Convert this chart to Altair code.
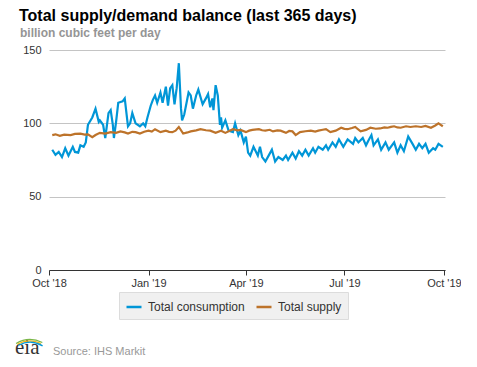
import altair as alt
import pandas as pd

FONT = "Liberation Sans"

# ---- data ----
START = "2018-10-01"
cons_day = [3, 6, 9, 12, 15, 18, 22, 24, 27, 29, 32, 34, 36, 40, 43, 46, 47, 50, 52, 55,
            57, 59, 60, 62, 64, 68, 70, 73, 75, 77, 80, 84, 87, 89, 91, 94, 96, 98, 100, 103,
            105, 108, 110, 112, 114, 116, 118, 120, 122, 123, 125, 129, 131, 133, 136, 138, 142, 145, 147, 149,
            151, 152, 154, 156, 158, 159, 160, 163, 166, 170, 172, 175, 177, 180, 182, 184, 186, 189, 193, 195,
            197, 200, 203, 206, 209, 212, 216, 219, 221, 225, 228, 231, 234, 237, 240, 244, 246, 249, 253, 256,
            258, 262, 265, 268, 272, 276, 281, 283, 286, 290, 293, 295, 298, 300, 304, 307, 311, 314, 319, 322,
            325, 328, 332, 336, 339, 342, 345, 348, 351, 355, 357, 360, 364]
cons_val = [82, 78.5, 80.5, 77, 83, 78, 84, 80.5, 80, 85, 84, 87, 99, 104, 110, 101, 102, 99, 90, 107,
            109, 99, 90, 101, 114, 115, 117, 98, 100, 107, 100, 98, 100, 98, 104, 112, 116, 119, 114, 121,
            114, 125, 112, 124, 126, 113, 124, 141, 110, 102, 106, 121, 119, 110, 119, 123, 113, 117, 120, 111,
            117, 109, 126, 119, 99, 104, 97, 102, 95, 94, 100, 92, 95, 87, 91, 80, 78, 84, 78, 84,
            77, 74, 78, 82, 74, 77, 75, 78, 75, 80, 76, 81, 78, 82, 78, 83, 80, 84, 82, 85,
            82, 87, 84, 89, 84, 89, 86, 90, 87, 90, 85, 88, 92, 85, 89, 82, 87, 82, 87, 80,
            85, 81, 91, 86, 82, 86, 83, 86, 80, 83, 82, 86, 84]

sup_day = [3, 6, 10, 14, 20, 24, 29, 33, 36, 40, 43, 47, 52, 57, 62, 66, 70, 73, 77, 80,
           84, 88, 92, 95, 98, 103, 108, 111, 114, 117, 120, 124, 128, 131, 136, 140, 145, 149, 154, 159,
           163, 167, 170, 174, 177, 182, 185, 188, 194, 197, 200, 204, 207, 211, 214, 219, 222, 225, 228, 232,
           237, 242, 246, 249, 253, 256, 260, 265, 270, 273, 276, 280, 283, 288, 293, 297, 302, 306, 310, 313,
           316, 319, 322, 325, 330, 334, 339, 344, 348, 353, 357, 360, 362, 364]
sup_val = [92, 92.5, 91.5, 92.3, 92, 92.8, 93, 92.3, 92.5, 90.5, 92, 93.5, 93, 94, 93.5, 94.5, 93.8, 93, 94.2, 94,
           93, 94.3, 95, 94.4, 96, 94, 95, 94.2, 94, 95, 97.5, 93, 93.8, 94.5, 95.2, 96, 95.3, 95, 93.5, 95,
           93.5, 95, 96, 95.2, 95.5, 94, 95, 95.5, 96, 95.3, 95, 95.6, 94.5, 95.2, 95, 93.5, 94.8, 94.5, 92, 94,
           94.6, 95, 94.4, 95, 95.6, 96, 94, 95, 97, 96.2, 96, 96.8, 97.5, 94.5, 95.5, 97, 96.3, 96.5, 97.2, 97,
           97.6, 98, 97.2, 97, 98, 97.5, 98, 97.5, 98.2, 97, 98.5, 100, 99, 98]

series = ["Total consumption", "Total supply"]
colors = ["#0096D7", "#BD732A"]
y_ticks = [0, 50, 100, 150]
x_ticks = ["2018-10-01", "2019-01-01", "2019-04-01", "2019-07-01", "2019-10-01"]

start = pd.Timestamp(START)
df = pd.concat([
    pd.DataFrame({"date": [start + pd.Timedelta(days=d) for d in cons_day],
                  "value": cons_val, "series": series[0]}),
    pd.DataFrame({"date": [start + pd.Timedelta(days=d) for d in sup_day],
                  "value": sup_val, "series": series[1]}),
])
df["date"] = df["date"].dt.strftime("%Y-%m-%dT%H:%M:%S")

x_vals = [alt.DateTime(year=int(s[:4]), month=int(s[5:7]), date=int(s[8:10])) for s in x_ticks]

lines = alt.Chart(df).mark_line(strokeWidth=2.2).encode(
    x=alt.X("date:T",
            scale=alt.Scale(domain=[alt.DateTime(year=2018, month=10, date=1),
                                    alt.DateTime(year=2019, month=10, date=2)], nice=False),
            axis=alt.Axis(title=None, values=x_vals, format="%b '%y", grid=False,
                          domainColor="#333333", tickColor="#333333", tickSize=5,
                          labelFlush=False, labelPadding=2, labelFontSize=11,
                          labelColor="#333333", labelFont=FONT)),
    y=alt.Y("value:Q", scale=alt.Scale(domain=[0, 150], nice=False),
            axis=alt.Axis(title=None, values=y_ticks, domain=False, ticks=False,
                          gridColor="#c4c4c4", labelPadding=8, labelFontSize=11,
                          labelColor="#333333", labelFont=FONT)),
    color=alt.Color("series:N", scale=alt.Scale(domain=series, range=colors),
                    legend=alt.Legend(title=None, orient="none", legendX=70, legendY=242,
                                      direction="horizontal", fillColor="#f0f0f0",
                                      strokeColor="#dcdcdc", padding=6,
                                      symbolType="stroke", symbolSize=225,
                                      symbolStrokeWidth=2.5, labelFontSize=12,
                                      labelColor="#333333", labelFont=FONT,
                                      labelOffset=5, columnPadding=6)),
)

one = pd.DataFrame({"k": [0]})

title = alt.Chart(one).mark_text(text="Total supply/demand balance (last 365 days)",
                                 font=FONT, fontSize=16, fontWeight="bold", color="#000000",
                                 align="left", baseline="alphabetic").encode(
    x=alt.value(-30), y=alt.value(-29))
subtitle = alt.Chart(one).mark_text(text="billion cubic feet per day",
                                    font=FONT, fontSize=12, fontWeight="bold", color="#959595",
                                    align="left", baseline="alphabetic").encode(
    x=alt.value(-29), y=alt.value(-13))
source = alt.Chart(one).mark_text(text="Source: IHS Markit", font=FONT, fontSize=11,
                                  color="#999999", align="left", baseline="alphabetic").encode(
    x=alt.value(4), y=alt.value(305))
logo = alt.Chart(one).mark_text(text="eia", font="Liberation Serif", fontSize=21,
                                color="#333333", align="left", baseline="alphabetic").encode(
    x=alt.value(-34), y=alt.value(304))
arc_g = alt.Chart(one).mark_arc(radius=28, radius2=26.8, theta=5.75, theta2=6.75,
                                color="#7ab648").encode(x=alt.value(-19), y=alt.value(317))
arc_y = alt.Chart(one).mark_arc(radius=26.6, radius2=25.4, theta=5.78, theta2=6.72,
                                color="#f2b71b").encode(x=alt.value(-19), y=alt.value(317))
arc_b = alt.Chart(one).mark_arc(radius=25.2, radius2=24.0, theta=5.8, theta2=6.82,
                                color="#0096D7").encode(x=alt.value(-19), y=alt.value(317))

chart = alt.layer(lines, title, subtitle, source, logo, arc_g, arc_y, arc_b).properties(
    width=396, height=220, autosize="none",
    padding={"left": 41, "top": 42, "right": 16, "bottom": 88},
).configure_view(stroke=None)

chart.save("out.html", embed_options={"renderer": "svg", "actions": False})
